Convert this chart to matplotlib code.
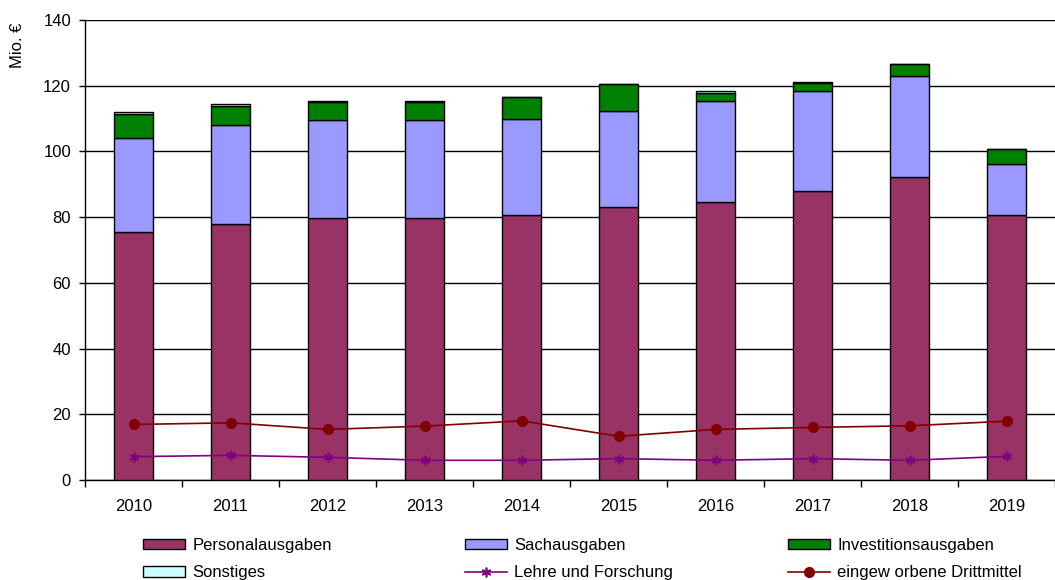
import numpy as np
import matplotlib.pyplot as plt
from matplotlib.patches import Patch
from matplotlib.lines import Line2D

plt.rcParams['font.family'] = ['Liberation Sans', 'DejaVu Sans']

# data (Mio. EUR)
years = ['2010', '2011', '2012', '2013', '2014', '2015', '2016', '2017', '2018', '2019']
personal = [75.5, 77.9, 79.7, 79.7, 80.6, 83.2, 84.7, 88.1, 92.3, 80.6]
sach = [28.6, 30.0, 29.8, 29.8, 29.4, 29.2, 30.6, 30.3, 30.6, 15.5]
invest = [7.3, 5.9, 5.4, 5.4, 6.6, 8.1, 2.6, 2.3, 3.6, 4.5]
sonstiges = [0.5, 0.5, 0.5, 0.5, 0.0, 0.0, 0.5, 0.5, 0.0, 0.0]
lehre = [7.1, 7.5, 6.9, 6.0, 6.0, 6.5, 6.0, 6.5, 6.0, 7.2]
drittmittel = [16.9, 17.4, 15.4, 16.4, 18.0, 13.3, 15.4, 16.0, 16.5, 17.9]

c_personal = '#993366'
c_sach = '#9999FF'
c_invest = '#008000'
c_sonst = '#CCFFFF'
c_lehre = '#800080'
c_dritt = '#800000'

fig = plt.figure(figsize=(10.55, 5.8), dpi=100)
ax = fig.add_axes([85 / 1055, 1 - 480 / 580, 1 - 85 / 1055, 460 / 580])

x = np.arange(len(years))
w = 0.4
bottom = np.zeros(len(years))
for vals, col in [(personal, c_personal), (sach, c_sach), (invest, c_invest), (sonstiges, c_sonst)]:
    vals = np.array(vals)
    ax.bar(x, vals, w, bottom=bottom, color=col, edgecolor='black', linewidth=1, zorder=3)
    bottom += vals

asterisk = (6, 2, 0)
ax.plot(x, lehre, color=c_lehre, marker=asterisk, markersize=7, markeredgewidth=1.2,
        linewidth=1.2, zorder=4)
ax.plot(x, drittmittel, color=c_dritt, marker='o', markersize=7, linewidth=1.2, zorder=4)

ax.set_xlim(-0.5, len(years) - 0.5)
ax.set_ylim(0, 140)
ax.set_yticks(np.arange(0, 141, 20))
ax.yaxis.grid(True, color='black', linewidth=1, zorder=0)
ax.set_xticks(x)
ax.set_xticklabels(years, fontsize=12)
ax.set_xticks(np.arange(-0.5, len(years), 1), minor=True)
ax.tick_params(axis='x', which='major', length=0, pad=14)
ax.tick_params(axis='x', which='minor', length=5, width=1, direction='out')
ax.tick_params(axis='y', length=4, width=1, direction='out', labelsize=12, pad=6)
for s in ['top', 'right']:
    ax.spines[s].set_visible(False)
for s in ['left', 'bottom']:
    ax.spines[s].set_linewidth(1)

fig.text(18 / 1055, 1 - 45 / 580, 'Mio. €', rotation=90, ha='center', va='center', fontsize=12)

# legend, three columns placed separately
cols = [
    [Patch(facecolor=c_personal, edgecolor='black', label='Personalausgaben'),
     Patch(facecolor=c_sonst, edgecolor='black', label='Sonstiges')],
    [Patch(facecolor=c_sach, edgecolor='black', label='Sachausgaben'),
     Line2D([], [], color=c_lehre, marker=asterisk, markersize=7, markeredgewidth=1.2,
            linewidth=1.2, label='Lehre und Forschung')],
    [Patch(facecolor=c_invest, edgecolor='black', label='Investitionsausgaben'),
     Line2D([], [], color=c_dritt, marker='o', markersize=7, linewidth=1.2,
            label='eingew orbene Drittmittel')],
]
xs = [143, 465, 788]
for hx, handles in zip(xs, cols):
    fig.legend(handles=handles, loc='upper left', bbox_to_anchor=(hx / 1055, 1 - 538 / 580),
               frameon=False, fontsize=12, handlelength=2.5, handleheight=0.6,
               handletextpad=0.45, labelspacing=0.75, borderpad=0, borderaxespad=0)

fig.savefig('out.png', dpi=100)
